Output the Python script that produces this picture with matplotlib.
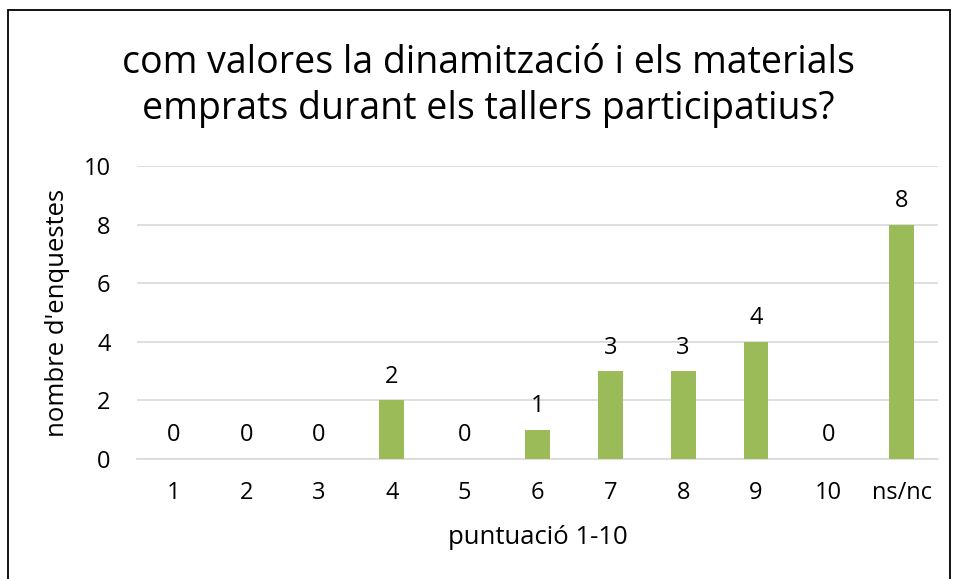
import matplotlib.pyplot as plt
from matplotlib.patches import Rectangle

plt.rcParams['font.family'] = ['Open Sans', 'DejaVu Sans']

categories = ['1', '2', '3', '4', '5', '6', '7', '8', '9', '10', 'ns/nc']
counts = [0, 0, 0, 2, 0, 1, 3, 3, 4, 0, 8]
title = "com valores la dinamització i els materials\nemprats durant els tallers participatius?"


def main() -> None:
    fig = plt.figure(figsize=(9.55, 5.79), dpi=100)
    ax = fig.add_axes([137 / 955, 1 - 459 / 579, 801 / 955, 293 / 579])

    x = range(len(categories))
    bars = ax.bar(x, counts, width=0.34, color='#9BBB59', zorder=3)

    # value labels above bars
    for b, v in zip(bars, counts):
        ax.text(b.get_x() + b.get_width() / 2, v + 0.6, str(v),
                ha='center', va='baseline', fontsize=17, color='#000000')

    ax.set_xlim(-0.5, len(categories) - 0.5)
    ax.set_ylim(0, 10)
    ax.set_yticks(range(0, 11, 2))
    ax.set_xticks(list(x))
    ax.set_xticklabels(categories)
    ax.tick_params(axis='both', length=0, labelsize=17, colors='#000000')
    ax.tick_params(axis='x', pad=16)
    ax.tick_params(axis='y', pad=19)

    ax.grid(axis='y', color='#D9D9D9', linewidth=1.2, zorder=0)
    for s in ['top', 'right', 'left']:
        ax.spines[s].set_visible(False)
    ax.spines['bottom'].set_color('#D9D9D9')
    ax.spines['bottom'].set_linewidth(1.2)

    ax.set_xlabel('puntuació 1-10', fontsize=18.5, labelpad=14)
    ax.set_ylabel("nombre d'enquestes", fontsize=18.5, labelpad=10)

    fig.text(488 / 955, 1 - 86 / 579, title, ha='center', va='center',
             fontsize=27, linespacing=1.25)

    # chart border
    fig.patches.append(Rectangle((8 / 955, -0.01), 942 / 955, 1 - 10 / 579 + 0.01,
                                 transform=fig.transFigure, fill=False,
                                 edgecolor='black', linewidth=1.3))

    fig.savefig('out.png', dpi=100)


if __name__ == "__main__":
    main()
